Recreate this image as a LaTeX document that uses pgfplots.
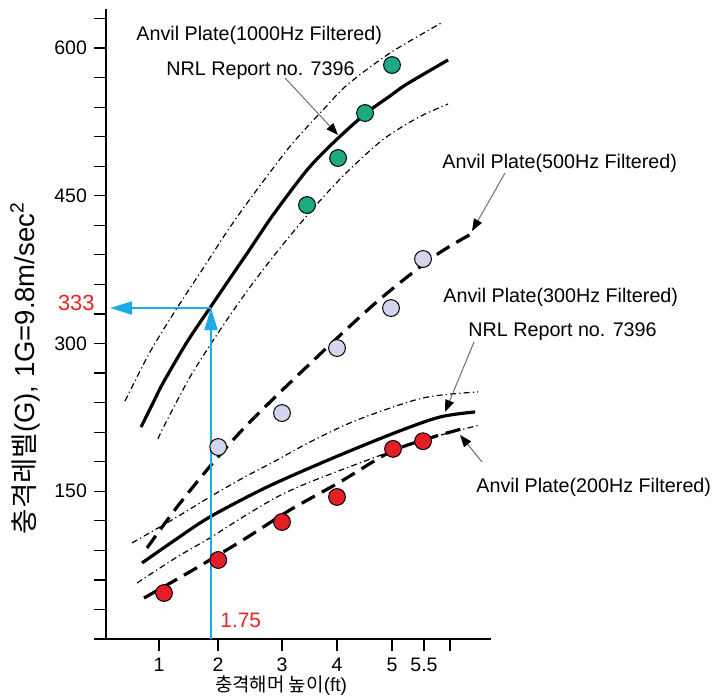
\documentclass[border=0pt]{standalone}
\usepackage{fontspec}
\setmainfont{Liberation Sans}
\newfontfamily\kr{Noto Sans CJK KR}
\usepackage{pgfplots}
\pgfplotsset{compat=1.18}
\usetikzlibrary{arrows.meta}
\definecolor{dotgreen}{HTML}{1BAA82}
\definecolor{dotlav}{HTML}{D4D4EC}
\definecolor{dotred}{HTML}{E41E26}
\definecolor{guide}{HTML}{1AABE8}
\definecolor{numred}{HTML}{E8222A}
\definecolor{leader}{HTML}{6E6E6E}
\tikzset{
  fit/.style={black, line width=1.6bp, smooth},
  band/.style={black, line width=0.6bp, smooth, dash pattern=on 3bp off 1.6bp on 0.6bp off 1.6bp},
  filt/.style={black, line width=1.6bp, smooth, dash pattern=on 7.5bp off 4bp},
  note/.style={font=\fontsize{9.9}{11}\selectfont, anchor=west, inner sep=0pt},
  lead/.style={leader, line width=0.5bp, -{Triangle[length=6bp,width=4.5bp,color=black]}},
}
\begin{document}
\begin{tikzpicture}
\begin{axis}[
  name=ax,
  scale only axis, width=192.5bp, height=315bp,
  xmin=0.089, xmax=6.704, ymin=0, ymax=639.6,
  axis x line=bottom, axis y line=left,
  axis line style={-, line width=1bp},
  xtick={1,2.014,3.113,4.058,5.003,5.553,6},
  xticklabels={1,2,3,4,5,5.5,{}},
  ytick={0,30,...,630},
  yticklabels={,,,,,150,,,,,300,,,,,450,,,,,600,},
  tick align=outside, major tick length=6bp,
  tick style={line width=0.6bp, black},
  ticklabel style={font=\fontsize{9.8}{11}\selectfont},
  clip=false,
]
% 1000 Hz band
\addplot[band] coordinates {(0.416,241.6)(0.845,291.4)(1.309,336.0)(1.739,374.6)(2.186,415.2)(2.615,450.8)(3.199,496.4)(3.543,519.8)(3.818,537.1)(4.230,562.4)(4.969,594.9)(5.880,626.4)};
\addplot[fit] coordinates {(0.691,215.2)(0.880,237.6)(1.069,259.9)(1.481,301.5)(1.873,336.0)(2.340,376.6)(2.564,395.9)(2.959,430.5)(3.543,476.1)(3.990,503.6)(4.540,533.0)(4.969,551.3)(5.261,563.5)(5.966,587.8)};
\addplot[band] coordinates {(0.983,203.0)(1.069,214.2)(1.533,266.0)(2.048,313.7)(2.564,357.4)(3.079,396.9)(3.595,433.5)(4.110,467.0)(4.625,495.9)(4.969,512.2)(5.485,530.5)(5.966,543.1)};
% 500 Hz
\addplot[filt] coordinates {(0.794,92.4)(1.309,134.0)(1.924,178.7)(2.512,217.3)(3.371,267.0)(4.680,339.1)(5.712,387.8)(6.395,412.2)};
% 300 Hz band
\addplot[band] coordinates {(0.536,97.5)(1.309,123.9)(1.873,144.2)(2.443,163.5)(3.027,181.7)(3.595,200.0)(4.402,222.3)(5.536,244.7)(6.481,250.8)};
\addplot[fit] coordinates {(0.708,77.2)(1.275,100.5)(1.873,123.9)(2.856,154.3)(3.990,183.8)(5.089,210.2)(5.828,225.4)(6.430,230.5)};
\addplot[band] coordinates {(0.622,56.9)(1.309,83.2)(1.873,102.5)(2.443,123.9)(3.027,144.2)(3.595,159.4)(4.680,183.8)(5.536,202.0)(6.515,217.3)};
% 200 Hz
\addplot[filt] coordinates {(0.742,41.6)(1.584,70.1)(2.443,100.5)(3.251,131.0)(4.110,159.4)(4.969,189.8)(5.656,204.1)(6.258,214.2)};
% measured points
\addplot[only marks, mark=*, mark size=4.2bp, mark options={fill=dotgreen, draw=black, line width=0.5bp}]
  coordinates {(3.543,440.6)(4.076,488.3)(4.540,534.0)(5.003,582.7)};
\addplot[only marks, mark=*, mark size=4.2bp, mark options={fill=dotlav, draw=black, line width=0.5bp}]
  coordinates {(2.017,194.9)(3.113,229.4)(4.058,295.4)(4.986,336.0)(5.536,385.8)};
\addplot[only marks, mark=*, mark size=4.2bp, mark options={fill=dotred, draw=black, line width=0.5bp}]
  coordinates {(1.086,46.7)(2.017,80.2)(3.113,118.8)(4.058,144.2)(5.021,193.0)(5.536,200.8)};
% read-off guide
\addplot[guide, line width=1bp, -{Triangle[length=11bp,width=6.5bp]}] coordinates {(1.893,0)(1.893,336)};
\addplot[guide, line width=1bp, -{Triangle[length=11bp,width=6.5bp]}] coordinates {(1.893,336)(0.158,336)};
\node[numred, font=\fontsize{11}{12}\selectfont, anchor=east, inner sep=0pt] at (axis cs:-0.100,341.1) {333};
\node[numred, font=\fontsize{10.5}{12}\selectfont, anchor=west, inner sep=0pt] at (axis cs:2.048,19.3) {1.75};
% annotations
\node[note] at (axis cs:0.605,613.2) {Anvil Plate(1000Hz Filtered)};
\node[note] at (axis cs:1.120,576.6) {NRL Report no. 7396};
\draw[lead] (axis cs:3.167,569.5) -- (axis cs:4.076,511.7);
\node[note] at (axis cs:5.862,483.2) {Anvil Plate(500Hz Filtered)};
\draw[lead] (axis cs:6.945,473.1) -- (axis cs:6.378,414.2);
\node[note] at (axis cs:5.880,347.2) {Anvil Plate(300Hz Filtered)};
\node[note] at (axis cs:6.309,311.7) {NRL Report no. 7396};
\draw[lead] (axis cs:6.412,301.5) -- (axis cs:5.914,230.5);
\node[note] at (axis cs:6.447,154.3) {Anvil Plate(200Hz Filtered)};
\draw[lead] (axis cs:6.550,179.7) -- (axis cs:6.172,207.1);
% axis titles
\node[font=\fontsize{9.5}{11}\selectfont] at (axis cs:3.096,-47.7) {{\kr 충격해머 높이}(ft)};
\node[font=\fontsize{13.8}{15}\selectfont, rotate=90] at (axis cs:-1.302,275.1) {{\kr 충격레벨}(G), 1G=9.8m/sec\textsuperscript{2}};
\end{axis}
\pgfresetboundingbox
\path ([xshift=-53bp,yshift=-29bp]ax.south west) rectangle ([xshift=110.5bp,yshift=4.5bp]ax.north east);
\end{tikzpicture}
\end{document}
